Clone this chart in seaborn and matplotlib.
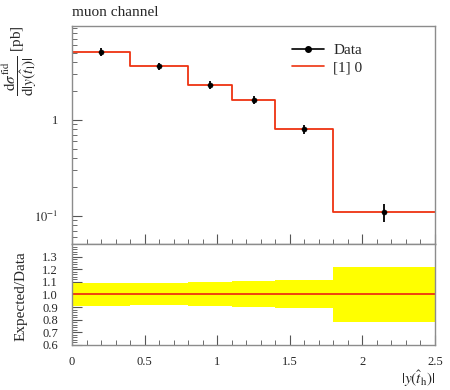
import numpy as np
import pandas as pd
import matplotlib
matplotlib.use('Agg')
import matplotlib.pyplot as plt
from matplotlib.lines import Line2D
from matplotlib.ticker import FixedLocator, MultipleLocator
import seaborn as sns

# bins of |y(t_h)|
edges = [0.0, 0.4, 0.8, 1.1, 1.4, 1.8, 2.5]
centers = [0.2, 0.6, 0.95, 1.25, 1.6, 2.15]
# cross section [pb]
data_vals = [5.1, 3.6, 2.3, 1.62, 0.80, 0.110]
mc_vals = [5.1, 3.6, 2.3, 1.62, 0.80, 0.110]
# relative uncertainties (band in ratio panel)
err_up = [0.093, 0.088, 0.095, 0.105, 0.112, 0.215]
err_dn = [0.088, 0.085, 0.090, 0.102, 0.107, 0.215]

sns.set_style('ticks')
plt.rcParams['font.family'] = ['Liberation Serif', 'DejaVu Serif']
plt.rcParams['mathtext.fontset'] = 'stix'

red = '#ee3311'
frame = '#8c8c8c'

fig = plt.figure(figsize=(4.5, 3.9), dpi=100)
ax = fig.add_axes([0.16, 0.3744, 0.8067, 0.559])
rax = fig.add_axes([0.16, 0.1154, 0.8067, 0.259], sharex=ax)

# MC histogram as step line
hist = pd.DataFrame({'x': edges, 'y': mc_vals + [mc_vals[-1]]})
sns.lineplot(data=hist, x='x', y='y', ax=ax, color=red, lw=1.3,
             drawstyle='steps-post', estimator=None, sort=False)

# data points with errors
d = pd.DataFrame({'x': centers, 'y': data_vals})
yerr = [np.array(data_vals) * np.array(err_dn), np.array(data_vals) * np.array(err_up)]
ax.errorbar(d.x, d.y, yerr=yerr, fmt='none', ecolor='black', elinewidth=1.3, zorder=3)
sns.scatterplot(data=d, x='x', y='y', ax=ax, color='black', s=14, edgecolor='black', zorder=4)

ax.set_yscale('log')
ax.set_ylim(0.051, 9.5)
ax.set_xlim(0, 2.5)
ax.yaxis.set_major_locator(FixedLocator([0.1, 1]))
ax.set_yticklabels(['$10^{-1}$', '1'])
ax.set_xlabel('')
ax.set_ylabel('')
ax.tick_params(axis='x', labelbottom=False)

# ratio panel
up = np.array([1 + e for e in err_up] + [1 + err_up[-1]])
dn = np.array([1 - e for e in err_dn] + [1 - err_dn[-1]])
rax.fill_between(edges, dn, up, step='post', color='#ffff00', lw=0)
ratio = pd.DataFrame({'x': [0, 2.5], 'y': [1.0, 1.0]})
sns.lineplot(data=ratio, x='x', y='y', ax=rax, color=red, lw=1.3)
rax.set_ylim(0.6, 1.4)
rax.yaxis.set_major_locator(FixedLocator([0.6, 0.7, 0.8, 0.9, 1.0, 1.1, 1.2, 1.3]))
rax.yaxis.set_minor_locator(MultipleLocator(0.02))
rax.set_yticklabels(['0.6', '0.7', '0.8', '0.9', '1.0', '1.1', '1.2', '1.3'])
rax.xaxis.set_major_locator(FixedLocator([0, 0.5, 1, 1.5, 2, 2.5]))
rax.set_xticklabels(['0', '0.5', '1', '1.5', '2', '2.5'])
rax.xaxis.set_minor_locator(MultipleLocator(0.1))
rax.set_xlabel('')
rax.set_ylabel('')

for a in (ax, rax):
    for s in a.spines.values():
        s.set_color(frame)
        s.set_linewidth(1.0)
    a.tick_params(which='both', direction='in', color='#555555', labelsize=9,
                  top=False, right=False)
    a.tick_params(which='major', length=7, width=0.8)
    a.tick_params(which='minor', length=3.5, width=0.6)
    a.tick_params(axis='y', pad=10)
    a.tick_params(axis='x', pad=8)
ax.xaxis.set_minor_locator(MultipleLocator(0.1))
ax.xaxis.set_major_locator(FixedLocator([0, 0.5, 1, 1.5, 2, 2.5]))

# legend
handles = [Line2D([], [], color='black', marker='o', ms=4, lw=1.2),
           Line2D([], [], color=red, lw=1.2)]
ax.legend(handles, ['Data', '[1] 0'], loc='upper left', bbox_to_anchor=(0.585, 0.955),
          frameon=False, fontsize=11, handlelength=2.1, handletextpad=0.6,
          labelspacing=0.25, borderpad=0)

fig.text(0.16, 0.968, 'muon channel', fontsize=11, ha='left', va='center')
fig.text(0.045, 0.935,
         r'$\dfrac{\mathrm{d}\sigma^{\mathrm{fid}}}{\mathrm{d}|y(\hat{t}_\mathrm{l})|}$ [pb]',
         rotation=90, ha='center', va='top', fontsize=11)
fig.text(0.047, 0.24, 'Expected/Data', rotation=90, ha='center', va='center', fontsize=11)
fig.text(0.967, 0.028, r'$|y(\hat{t}_\mathrm{h})|$', ha='right', va='center', fontsize=11)

fig.savefig('out.png', dpi=100)
